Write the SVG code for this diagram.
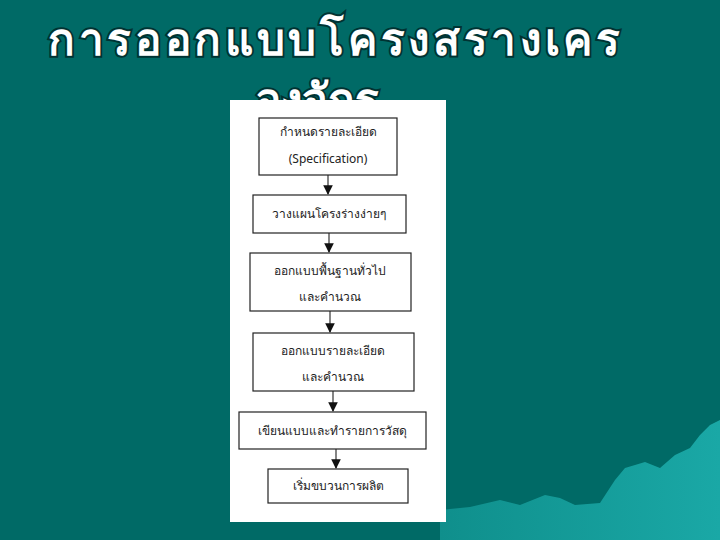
<svg xmlns="http://www.w3.org/2000/svg" width="720" height="540" viewBox="0 0 720 540">
<defs>
<style>
.t{font-family:"Noto Sans","Noto Sans CJK SC",sans-serif;font-size:12px;fill:#222;text-anchor:middle}
.b{fill:#fff;stroke:#222;stroke-width:1.2}
.h{font-family:"Noto Sans",sans-serif;font-weight:bold;font-size:44px;fill:#fff}
.c{stroke:#333;stroke-width:1.2;fill:none}
</style>
<marker id="a" viewBox="0 0 10 10" refX="9" refY="5" markerWidth="8" markerHeight="8" orient="auto"><path d="M0,0L10,5L0,10z" fill="#111"/></marker>
<linearGradient id="m" x1="0" y1="0" x2="1" y2="0"><stop offset="0" stop-color="#0f8f8c"/><stop offset="1" stop-color="#1aa8a6"/></linearGradient>
</defs>
<rect width="720" height="540" fill="#006a66"/>
<path d="M440,510 L470,507 L500,500 L520,505 L545,495 L560,498 L575,505 L600,503 L615,480 L625,468 L645,462 L660,468 L675,455 L690,448 L700,435 L710,425 L720,420 L720,540 L440,540z" fill="url(#m)"/>
<text class="h" x="48" y="55" textLength="572" stroke="#033" stroke-width="4" paint-order="stroke">การออกแบบโครงสรางเคร</text>
<text class="h" x="255" y="115" stroke="#033" stroke-width="4" paint-order="stroke">องจักร</text>
<rect x="230" y="100" width="216" height="422" fill="#fff"/>
<g id="connectors">
<line class="c" x1="328" y1="175" x2="328" y2="194" marker-end="url(#a)"/>
<line class="c" x1="329" y1="233" x2="329" y2="252" marker-end="url(#a)"/>
<line class="c" x1="330" y1="311" x2="330" y2="332" marker-end="url(#a)"/>
<line class="c" x1="333" y1="391" x2="333" y2="411" marker-end="url(#a)"/>
<line class="c" x1="336" y1="449" x2="336" y2="468" marker-end="url(#a)"/>
</g>
<g id="n1"><rect class="b" x="259" y="118" width="138" height="57"/><text class="t" x="328" y="136">กำหนดรายละเอียด</text><text class="t" x="328" y="163">(Specification)</text></g>
<g id="n2"><rect class="b" x="253" y="195" width="153" height="38"/><text class="t" x="329" y="218">วางแผนโครงร่างง่ายๆ</text></g>
<g id="n3"><rect class="b" x="250" y="253" width="161" height="58"/><text class="t" x="330" y="275">ออกแบบพื้นฐานทั่วไป</text><text class="t" x="330" y="301">และคำนวณ</text></g>
<g id="n4"><rect class="b" x="253" y="333" width="161" height="58"/><text class="t" x="333" y="355">ออกแบบรายละเอียด</text><text class="t" x="333" y="381">และคำนวณ</text></g>
<g id="n5"><rect class="b" x="239" y="412" width="187" height="37"/><text class="t" x="332" y="435">เขียนแบบและทำรายการวัสดุ</text></g>
<g id="n6"><rect class="b" x="268" y="469" width="140" height="34"/><text class="t" x="338" y="490">เริ่มขบวนการผลิต</text></g>
</svg>
